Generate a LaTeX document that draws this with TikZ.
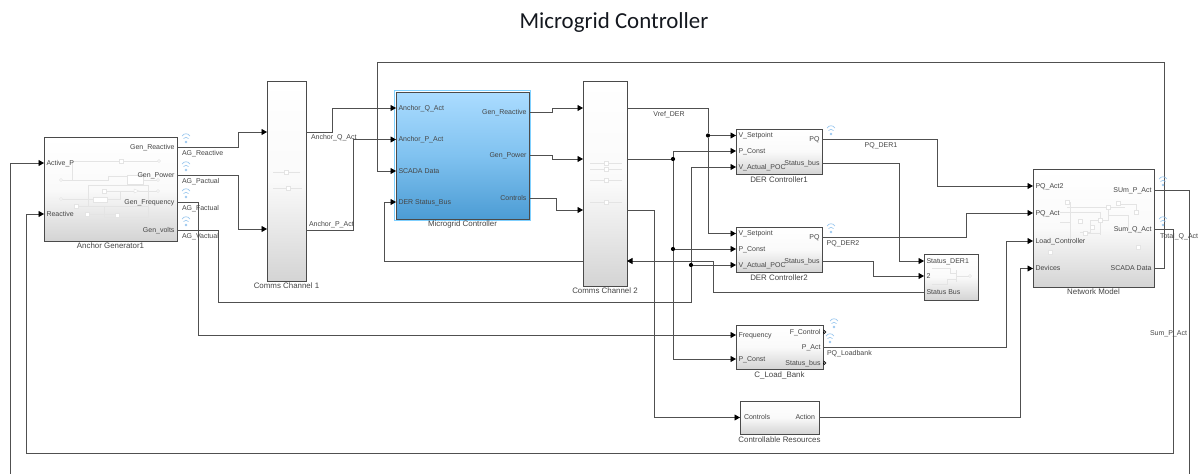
\documentclass[tikz,border=0pt]{standalone}
\usepackage{fontspec}
\setmainfont{Liberation Sans}
\newfontfamily\titlefont{Carlito}
\usepackage{xcolor}
\usepackage{tikz}
\usetikzlibrary{positioning, arrows.meta, shadows, calc}
\definecolor{gridwire}{HTML}{505050}
\definecolor{gridtext}{HTML}{454545}
\definecolor{gridedge}{HTML}{4A4A4A}
\definecolor{gridmid}{HTML}{FAFAFA}
\definecolor{gridlow}{HTML}{D4D4D4}
\definecolor{gridghost}{HTML}{E4E4E4}
\definecolor{gridwifi}{HTML}{9CC8EE}
\definecolor{gridtop}{HTML}{ABDCFF}
\definecolor{gridcentre}{HTML}{80C2F0}
\definecolor{gridlowblue}{HTML}{4C9CD4}
\definecolor{gridglow}{HTML}{7FD0FF}
\definecolor{gridtitle}{HTML}{14181F}
\tikzset{
  block/.style={rectangle,draw=gridedge,line width=.9pt,outer sep=0pt,top color=white,bottom color=gridlow,middle color=gridmid,
    drop shadow={shadow xshift=1.2pt,shadow yshift=-1.2pt,fill=black!55,opacity=.8}},
  ctrlblock/.style={block,top color=gridtop,bottom color=gridlowblue,middle color=gridcentre},
  port/.style={font=\fontsize{7}{8}\selectfont,text=gridtext,inner xsep=2.5pt,inner ysep=0pt,outer sep=0pt,text height=5.5pt,text depth=1.5pt},
  inport/.style={port,anchor=west},
  outport/.style={port,anchor=east},
  wirelabel/.style={port,inner xsep=0pt},
  blockname/.style={port,font=\fontsize{7.9}{9}\selectfont,below=#1},
  sig/.style={draw=gridwire,line width=.9pt},
  feed/.style={sig,-{Triangle[length=5.5pt,width=6pt,color=black]}},
  stub/.style={black,line width=.6pt,-{Triangle[open,length=3pt,width=5pt]}},
  joint/.style={circle,fill=black,inner sep=0pt,minimum size=4.2pt,outer sep=0pt},
  ghost/.style={draw=gridghost,line width=.5pt},
  ghostbox/.style={ghost,fill=white},
  wifi/.pic={
    \fill[gridwifi](0,0)circle(1.4);
    \draw[gridwifi,line width=.7pt](-2.5,-3.5)..controls(-1,-5)and(1,-5)..(2.5,-3.5);
    \draw[gridwifi,line width=.7pt](-4,-6)..controls(-2,-9)and(2,-9)..(4,-6);
  }
}
\begin{document}
\begin{tikzpicture}[x=1pt,y=-1pt]
  \useasboundingbox(0,0)rectangle(1203,474);
  \node[font=\titlefont\fontsize{22.9}{26}\selectfont,text=gridtitle](pagetitle)at(614,23){Microgrid Controller};

  \node[block,minimum width=133pt,minimum height=104pt](anchorgen)at(110.5,189){};
  \node[blockname=2pt of anchorgen](anchorgenname){Anchor Generator1};
  \node[block,minimum width=39pt,minimum height=200pt](commsone)at(286.5,181){};
  \node[blockname=2pt of commsone](commsonename){Comms Channel 1};
  \draw[gridglow,line width=1.6pt](394.5,90.5)rectangle(530.5,220.5);
  \node[ctrlblock,minimum width=133pt,minimum height=127pt](mgctrl)at(462.5,155.5){};
  \node[blockname=1.5pt of mgctrl](mgctrlname){Microgrid Controller};
  \node[block,minimum width=44pt,minimum height=205pt](commstwo)at(605,183.5){};
  \node[blockname=2pt of commstwo](commstwoname){Comms Channel 2};
  \node[block,minimum width=86pt,minimum height=45pt](derone)at(779,151.5){};
  \node[blockname=3pt of derone](deronename){DER Controller1};
  \node[block,minimum width=86pt,minimum height=45pt](dertwo)at(779,249.5){};
  \node[blockname=3pt of dertwo](dertwoname){DER Controller2};
  \node[block,minimum width=54pt,minimum height=46pt](statusbus)at(951,277){};
  \node[block,minimum width=121pt,minimum height=118pt](netmodel)at(1093.5,228){};
  \node[blockname=2pt of netmodel](netmodelname){Network Model};
  \node[block,minimum width=87pt,minimum height=44pt](loadbank)at(779.5,347){};
  \node[blockname=3pt of loadbank](loadbankname){C\_Load\_Bank};
  \node[block,minimum width=79pt,minimum height=33pt](ctrlres)at(779.5,417.5){};
  \node[blockname=3pt of ctrlres](ctrlresname){Controllable Resources};

  \draw[ghost](73,161)--(159,161);\draw[ghost](72.5,161)--(72.5,180);\draw[ghost](61,180)--(108,180)--(108,176)--(127,176);
  \draw[ghost](143,180)--(158,180);\draw[ghost](88,206)--(88,185)--(148,185)--(148,217)--(104,217);
  \draw[ghost](104,191)--(158,191);\draw[ghost](61,199)--(93,199);\draw[ghost](107,199)--(120,199)--(120,191);
  \draw[ghost](76,206)--(148,206);\draw[ghost](87,214)--(117,214);\draw[ghost](104,206)--(104,217);
  \draw[ghostbox](119,159)rectangle(123,163);\draw[ghostbox](127,175)rectangle(143,184);\draw[ghostbox](93,197)rectangle(107,202);
  \draw[ghostbox](102,189)rectangle(106,193);\draw[ghostbox](74,204)rectangle(78,208);\draw[ghostbox](85,212)rectangle(89,216);
  \draw[ghostbox](115,213)rectangle(119,217);\draw[ghostbox](134,189)--(139,191)--(134,193)--cycle;
  \draw[ghostbox](159,161)circle(1.5);\draw[ghostbox](61,180)circle(1.5);\draw[ghostbox](158,180)circle(1.5);
  \draw[ghostbox](158,191)circle(1.5);\draw[ghostbox](61,199)circle(1.5);

  \draw[ghost](273,172.5)--(300,172.5);\draw[ghost](273,188)--(302,188);
  \draw[ghostbox](284.5,170.5)rectangle(288.5,174.5);\draw[ghostbox](286,186)rectangle(290,190);

  \draw[ghost](590,163)--(622,163);\draw[ghost](590,169)--(622,169);\draw[ghost](590,180)--(622,180);\draw[ghost](590,202)--(622,202);
  \draw[ghostbox](604,161)rectangle(608,165);\draw[ghostbox](604,167)rectangle(608,171);
  \draw[ghostbox](604,178)rectangle(608,182);\draw[ghostbox](604,200)rectangle(608,204);

  \draw[ghost](932,268)--(950,268)--(950,273)--(956,273);\draw[ghost](932,284)--(947,284)--(947,279)--(956,279);
  \draw[ghost](956,270)--(956,282);\draw[ghost](956,276)--(970,276);\draw[ghostbox](970,276)circle(1.5);

  \draw[ghost](1067,202)--(1070,202)--(1070,245);\draw[ghost](1060,212)--(1100,212)--(1100,235);\draw[ghost](1060,222)--(1070,222);
  \draw[ghost](1108,207)--(1108,220)--(1090,220)--(1090,232)--(1080,232);\draw[ghost](1118,204)--(1136,204)--(1136,212);
  \draw[ghost](1108,215)--(1128,215)--(1128,230);\draw[ghost](1085,233)--(1100,233);\draw[ghost](1067,207)--(1125,207);
  \draw[ghostbox](1065,200)rectangle(1069,204);\draw[ghostbox](1106,205)rectangle(1110,209);\draw[ghostbox](1116,201)rectangle(1120,205);
  \draw[ghostbox](1134,210)rectangle(1138,214);\draw[ghostbox](1078,219)rectangle(1082,223);\draw[ghostbox](1090,225)rectangle(1094,229);
  \draw[ghostbox](1098,218)rectangle(1102,222);\draw[ghostbox](1083,231)rectangle(1087,235);\draw[ghostbox](1048,250)rectangle(1052,254);
  \draw[ghostbox](1136,245)rectangle(1140,249);

  \node[inport](agactive)at(44,163){Active\_P};\node[inport](agreactive)at(44,214){Reactive};
  \node[outport](aggenq)at(177,147.5){Gen\_Reactive};\node[outport](aggenp)at(177,175){Gen\_Power};
  \node[outport](aggenf)at(177,202){Gen\_Frequency};\node[outport](aggenv)at(177,230){Gen\_volts};

  \node[inport](mgq)at(396,108){Anchor\_Q\_Act};\node[inport](mgp)at(396,139.5){Anchor\_P\_Act};
  \node[inport](mgscada)at(396,171){SCADA Data};\node[inport](mgstatus)at(396,202){DER Status\_Bus};
  \node[outport](mggenq)at(529,112){Gen\_Reactive};\node[outport](mggenp)at(529,155){Gen\_Power};
  \node[outport](mgctl)at(529,198){Controls};

  \node[inport](oneset)at(736,135.5){V\_Setpoint};\node[inport](onepc)at(736,151){P\_Const};
  \node[inport](oneact)at(736,167){V\_Actual\_POC};\node[outport](onepq)at(822,139.5){PQ};
  \node[outport](onestat)at(822,163){Status\_bus};
  \node[inport](twoset)at(736,233.5){V\_Setpoint};\node[inport](twopc)at(736,249){P\_Const};
  \node[inport](twoact)at(736,265){V\_Actual\_POC};\node[outport](twopq)at(822,237.5){PQ};
  \node[outport](twostat)at(822,261){Status\_bus};

  \node[inport](busone)at(924,261){Status\_DER1};\node[inport](bustwo)at(924,276){2};
  \node[inport](busout)at(924,292.5){Status Bus};

  \node[inport](netpqb)at(1033,186){PQ\_Act2};\node[inport](netpqa)at(1033,213){PQ\_Act};
  \node[inport](netload)at(1033,241){Load\_Controller};\node[inport](netdev)at(1033,268.5){Devices};
  \node[outport](netsump)at(1154,190){SUm\_P\_Act};\node[outport](netsumq)at(1154,229){Sum\_Q\_Act};
  \node[outport](netscada)at(1154,268){SCADA Data};

  \node[inport](lbfreq)at(736,335){Frequency};\node[inport](lbpc)at(736,359){P\_Const};
  \node[outport](lbfctl)at(823,332){F\_Control};\node[outport](lbpact)at(823,347.5){P\_Act};
  \node[outport](lbstat)at(823,363){Status\_bus};
  \node[inport,inner xsep=4pt](rescontrols)at(740,417.5){Controls};\node[outport,inner xsep=4pt](resaction)at(819,417.5){Action};

  \coordinate(oneinq)at(267,132);\coordinate(oneinp)at(267,229);
  \coordinate(oneoutq)at(306,132);\coordinate(oneoutp)at(306,230);
  \coordinate(twoinq)at(583,108);\coordinate(twoinp)at(583,159);\coordinate(twoinc)at(583,210);
  \coordinate(twostatout)at(583,261);\coordinate(twostatin)at(627,261);
  \coordinate(twooutv)at(627,108);\coordinate(twooutp)at(627,159);\coordinate(twooutc)at(627,210);
  \coordinate(activeend)at(10,474);\coordinate(sumpend)at(1189,474);

  \node[joint](jointv)at(708,135.5){};\node[joint](jointp)at(673,159){};
  \node[joint](jointpc)at(673,249){};\node[joint](jointact)at(691,265){};

  \draw[feed](aggenq.east)-|(238,132)--(oneinq);
  \draw[feed](aggenp.east)-|(238,229)--(oneinp);
  \draw[feed](oneoutq)-|(332,108)--(mgq.west);
  \draw[feed](oneoutp)-|(353,139.5)--(mgp.west);
  \draw[feed](aggenf.east)-|(198,335)--(lbfreq.west);
  \draw[sig](aggenv.east)-|(218.5,302)-|(jointact);
  \draw[feed](jointact)|-(oneact.west);\draw[feed](jointact)--(twoact.west);
  \draw[feed](mggenq.east)-|(552.5,108)--(twoinq);
  \draw[feed](mggenp.east)-|(552.5,159)--(twoinp);
  \draw[feed](mgctl.east)-|(556,210)--(twoinc);
  \draw[feed](twostatout)-|(384,202)--(mgstatus.west);
  \draw[sig](twooutv)-|(jointv);\draw[feed](jointv)--(oneset.west);\draw[feed](jointv)|-(twoset.west);
  \draw[sig](twooutp)--(jointp);\draw[feed](jointp)|-(onepc.west);\draw[sig](jointp)--(jointpc);
  \draw[feed](jointpc)--(twopc.west);\draw[feed](jointpc)|-(lbpc.west);
  \draw[feed](twooutc)-|(654,417.5)--(rescontrols.west);
  \draw[feed](busout.west)-|(713.5,261)--(twostatin);
  \draw[feed](onestat.east)-|(899,261)--(busone.west);
  \draw[feed](twostat.east)-|(873,276)--(bustwo.west);
  \draw[feed](onepq.east)-|(937,186)--(netpqb.west);
  \draw[feed](twopq.east)-|(966,213)--(netpqa.west);
  \draw[feed](lbpact.east)-|(1006,241)--(netload.west);
  \draw[feed](resaction.east)-|(1020,268.5)--(netdev.west);
  \draw[feed](netscada.east)-|(1164,62)-|(377,171)--(mgscada.west);
  \draw[feed](netsumq.east)-|(1173,453)-|(26,214)--(agreactive.west);
  \draw[sig](netsump.east)-|(sumpend);
  \draw[feed](activeend)|-(agactive.west);
  \draw[stub](lbfctl.east)--++(3.5,0);\draw[stub](lbstat.east)--++(3.5,0);

  \pic at(186,142){wifi};\pic at(186,170){wifi};\pic at(186,197){wifi};\pic at(186,225){wifi};
  \pic at(831,134){wifi};\pic at(831,232){wifi};\pic at(834,327){wifi};\pic at(830,342){wifi};
  \pic at(1163,185){wifi};\pic at(1163,225){wifi};

  \node[wirelabel,anchor=west](lblagq)at(182,153){AG\_Reactive};\node[wirelabel,anchor=west](lblagp)at(182,181){AG\_Pactual};
  \node[wirelabel,anchor=west](lblagf)at(182,208){AG\_Factual};\node[wirelabel,anchor=west](lblagv)at(182,236){AG\_Vactual};
  \node[wirelabel,anchor=west](lblq)at(311,137){Anchor\_Q\_Act};\node[wirelabel,anchor=west](lblp)at(309,224){Anchor\_P\_Act};
  \node[wirelabel](lblvref)at(669,114){Vref\_DER};\node[wirelabel](lblderone)at(881,145){PQ\_DER1};
  \node[wirelabel](lbldertwo)at(843,243){PQ\_DER2};\node[wirelabel,anchor=west](lbllb)at(827,353){PQ\_Loadbank};
  \node[wirelabel,anchor=west](lbltotal)at(1160,236){Total\_Q\_Act};\node[wirelabel,anchor=west](lblsump)at(1150,333){Sum\_P\_Act};
\end{tikzpicture}
\end{document}
